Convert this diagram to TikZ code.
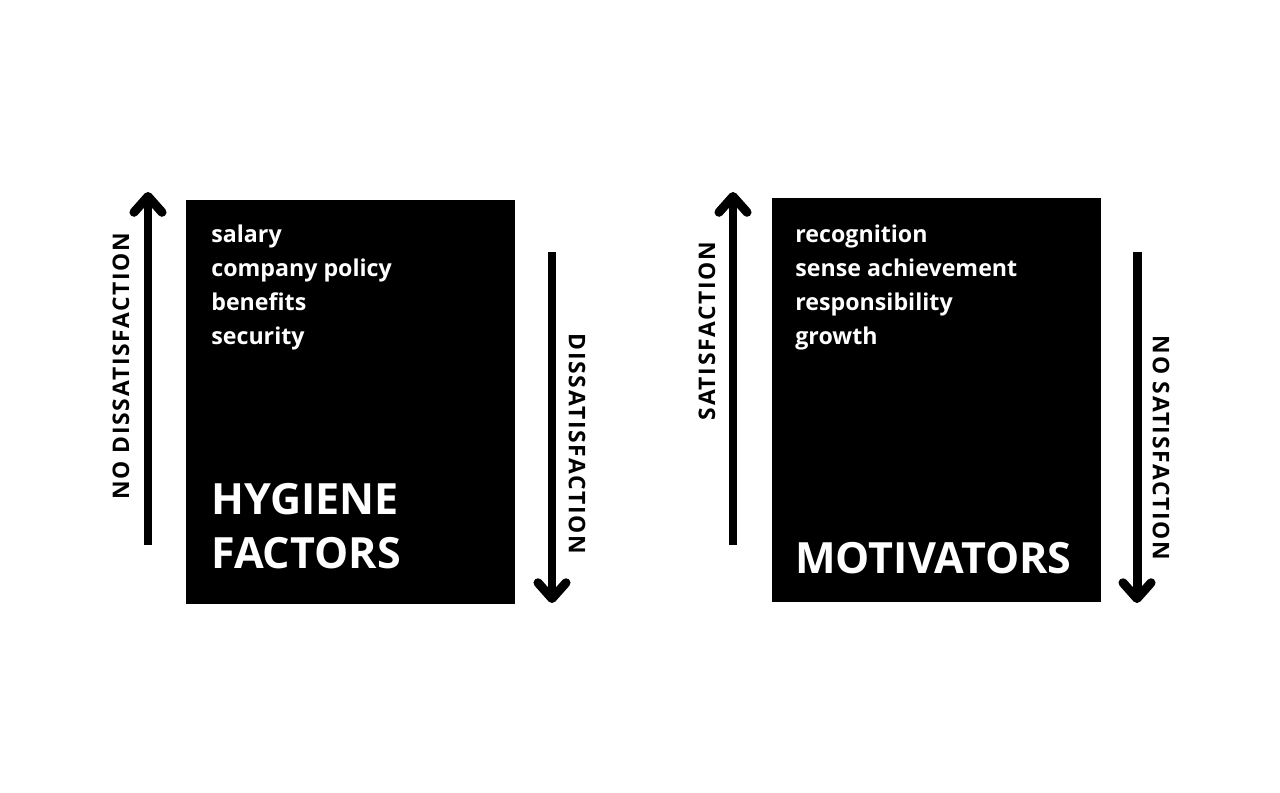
\documentclass[tikz,border=0pt]{standalone}
\usepackage{fontspec}
\setmainfont{Open Sans}
\newfontfamily\sidefont{Open Sans}[LetterSpace=7.5]
\usetikzlibrary{arrows.meta}

\begin{document}
\begin{tikzpicture}[x=0.02cm,y=-0.02cm,
	item/.style={anchor=base west,inner sep=0pt,text=white,font=\bfseries\fontsize{13.2}{16}\selectfont},
	title/.style={anchor=base west,inner sep=0pt,text=white,font=\bfseries\fontsize{24.5}{28}\selectfont},
	side/.style={inner sep=0pt,font=\sidefont\bfseries\fontsize{13}{15}\selectfont},
	bigarrow/.style={line width=5.1pt,-{Straight Barb[length=9pt,width=16pt,round]}}]
	\useasboundingbox (0,0) rectangle (1280,792);

	\fill[black] (186,200) rectangle (515,604);
	\node[item] (salary) at (211,242) {salary};
	\node[item] (policy) at (211,276) {company policy};
	\node[item] (benefits) at (211,310) {benefits};
	\node[item] (security) at (211,344) {security};
	\node[title] (hygiene) at (211,514) {HYGIENE};
	\node[title] (factors) at (211,568) {FACTORS};
	\coordinate (hupstart) at (148,545);
	\coordinate (hupend) at (148,192);
	\coordinate (hdownstart) at (552,252);
	\coordinate (hdownend) at (552,603);
	\draw[bigarrow] (hupstart) -- (hupend);
	\draw[bigarrow] (hdownstart) -- (hdownend);
	\node[side,rotate=90] (nodis) at (121,366) {NO DISSATISFACTION};
	\node[side,rotate=-90] (dis) at (577,444) {DISSATISFACTION};

	\fill[black] (772,198) rectangle (1101,602);
	\node[item] (recognition) at (795,242) {recognition};
	\node[item] (achievement) at (795,276) {sense achievement};
	\node[item] (responsibility) at (795,310) {responsibility};
	\node[item] (growth) at (795,344) {growth};
	\node[title] (motivators) at (795,573) {MOTIVATORS};
	\coordinate (mupstart) at (733,545);
	\coordinate (mupend) at (733,192);
	\coordinate (mdownstart) at (1137,252);
	\coordinate (mdownend) at (1137,603);
	\draw[bigarrow] (mupstart) -- (mupend);
	\draw[bigarrow] (mdownstart) -- (mdownend);
	\node[side,rotate=90] (sat) at (707,331) {SATISFACTION};
	\node[side,rotate=-90] (nosat) at (1161,448) {NO SATISFACTION};
\end{tikzpicture}
\end{document}
